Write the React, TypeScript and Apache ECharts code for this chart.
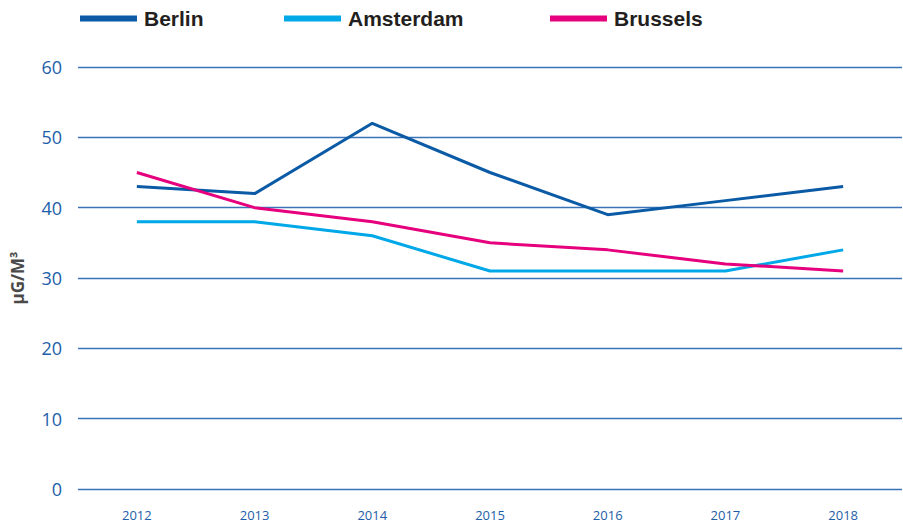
import React, { useEffect, useRef } from "react";
import * as echarts from "echarts";

const years = ["2012", "2013", "2014", "2015", "2016", "2017", "2018"];
const berlin = [43, 42, 52, 45, 39, 41, 43];
const amsterdam = [38, 38, 36, 31, 31, 31, 34];
const brussels = [45, 40, 38, 35, 34, 32, 31];
const seriesNames = ["Berlin", "Amsterdam", "Brussels"];
const seriesColors = ["#0a5aa6", "#00a8e8", "#e6007e"];
const yName = "µG/M³";

export default function App() {
  const ref = useRef<HTMLDivElement>(null);
  useEffect(() => {
    if (!ref.current) return;
    const chart = echarts.init(ref.current, null, { renderer: "svg" });
    const values = [berlin, amsterdam, brussels];
    const legendLefts = [75, 279, 545];
    chart.setOption({
      animation: false,
      grid: { left: 78, right: 1, top: 67, bottom: 34, containLabel: false },
      legend: seriesNames.map((n, i) => ({
        data: [n],
        left: legendLefts[i],
        top: 3,
        itemWidth: 57,
        itemHeight: 6,
        icon: "rect",
        selectedMode: false,
        textStyle: {
          fontFamily: "Liberation Sans, Arial, sans-serif",
          fontWeight: "bold",
          fontSize: 21,
          color: "#231f20",
          padding: [0, 0, 0, 2],
        },
      })),
      xAxis: {
        type: "category",
        data: years,
        boundaryGap: true,
        axisLine: { show: false },
        axisTick: { show: false },
        axisLabel: {
          color: "#1d5ea8",
          fontFamily: "Open Sans, sans-serif",
          fontSize: 13,
          lineHeight: 14,
          margin: 19,
        },
      },
      yAxis: {
        type: "value",
        min: 0,
        max: 60,
        interval: 10,
        name: yName,
        nameLocation: "middle",
        nameRotate: 90,
        nameGap: 52,
        nameTextStyle: {
          fontFamily: "Open Sans, sans-serif",
          fontWeight: "bold",
          fontSize: 17,
          color: "#4a4a4a",
        },
        axisLine: { show: false },
        axisTick: { show: false },
        axisLabel: {
          color: "#1d5ea8",
          fontFamily: "Open Sans, sans-serif",
          fontSize: 18,
          margin: 16,
        },
        splitLine: { lineStyle: { color: "#3a74b6", width: 1.4 } },
      },
      series: seriesNames.map((n, i) => ({
        name: n,
        type: "line",
        data: values[i],
        symbol: "none",
        color: seriesColors[i],
        lineStyle: { width: 3, color: seriesColors[i] },
      })),
    });
    return () => chart.dispose();
  }, []);
  return <div ref={ref} style={{ width: 903, height: 523, position: "absolute", left: 0, top: 0 }} />;
}
